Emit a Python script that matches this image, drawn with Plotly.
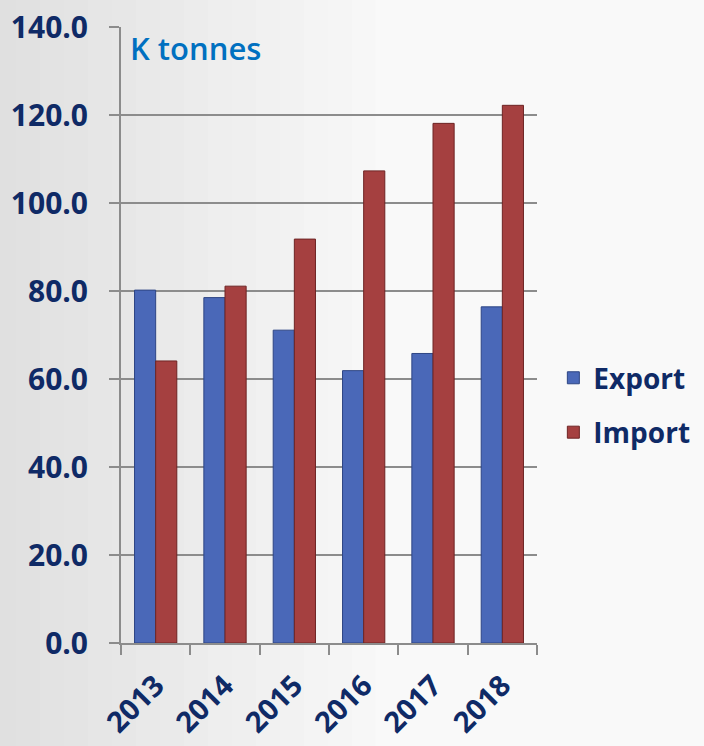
import plotly.graph_objects as go

years = ["2013", "2014", "2015", "2016", "2017", "2018"]
export_vals = [80.2, 78.5, 71.1, 61.9, 65.8, 76.4]
import_vals = [64.1, 81.1, 91.8, 107.3, 118.1, 122.2]
y_ticks = [0, 20, 40, 60, 80, 100, 120, 140]
y_tick_text = [f"{v:.1f}" for v in y_ticks]

navy = "#0F2A66"
grid = "#8C8C8C"
font_family = "Open Sans, DejaVu Sans, sans-serif"

fig = go.Figure()
fig.add_trace(go.Bar(
    x=years, y=export_vals, name="Export", legendgroup="e",
    marker=dict(color="#4A68B8", line=dict(color="#2E4584", width=1)),
))
fig.add_trace(go.Bar(
    x=years, y=import_vals, name="Import", legendgroup="i",
    marker=dict(color="#A54040", line=dict(color="#6E2424", width=1)),
))

# soft background gradient (decorative)
shapes = []
n = 30
x_start, x_end = -0.31, 1.42
step = (x_end - x_start) / n
for i in range(n):
    t = i / (n - 1)
    g = int(224 + (249 - 224) * min(1.0, t / 0.55))
    shapes.append(dict(type="rect", xref="paper", yref="paper",
                       x0=x_start + i * step, x1=x_start + (i + 1) * step + 0.003,
                       y0=-0.2, y1=1.1, layer="below", line=dict(width=0),
                       fillcolor=f"rgb({g},{g},{g})"))

fig.update_layout(
    width=704, height=746,
    margin=dict(l=121, r=167, t=27, b=103),
    paper_bgcolor="#EDEDED",
    plot_bgcolor="rgba(0,0,0,0)",
    barmode="group", bargap=0.39, bargroupgap=0,
    shapes=shapes,
    font=dict(family=font_family, color=navy),
    showlegend=True,
    legend=dict(xref="container", yref="container", x=0.786, xanchor="left",
                y=0.457, yanchor="middle",
                font=dict(size=28, color=navy, family=font_family, weight="bold"),
                tracegroupgap=15, bgcolor="rgba(0,0,0,0)", itemwidth=30),
    annotations=[dict(text="K tonnes", xref="paper", yref="paper", x=0.018, y=0.966,
                      xanchor="left", yanchor="middle", showarrow=False,
                      font=dict(size=31, color="#0070C0", family=font_family, weight=600))],
)
fig.update_yaxes(
    range=[0, 140], tickvals=y_ticks, ticktext=y_tick_text,
    showgrid=True, gridcolor=grid, gridwidth=2,
    showline=True, linecolor=grid, linewidth=2,
    ticks="outside", ticklen=10, tickcolor=grid, tickwidth=2,
    ticklabelstandoff=15, automargin=False,
    tickfont=dict(size=30, color=navy, family=font_family, weight="bold"),
    zeroline=False,
)
fig.update_xaxes(
    showline=True, linecolor=grid, linewidth=2,
    ticks="outside", ticklen=10, tickcolor=grid, tickwidth=2,
    tickson="boundaries", tickangle=-45, automargin=False,
    ticklabelstandoff=12,
    tickfont=dict(size=29, color=navy, family=font_family, weight="bold"),
    showgrid=False,
)

fig.write_html("out.html", config={"displayModeBar": False},
               post_script="document.body.style.margin='0';document.body.style.overflow='hidden';")
